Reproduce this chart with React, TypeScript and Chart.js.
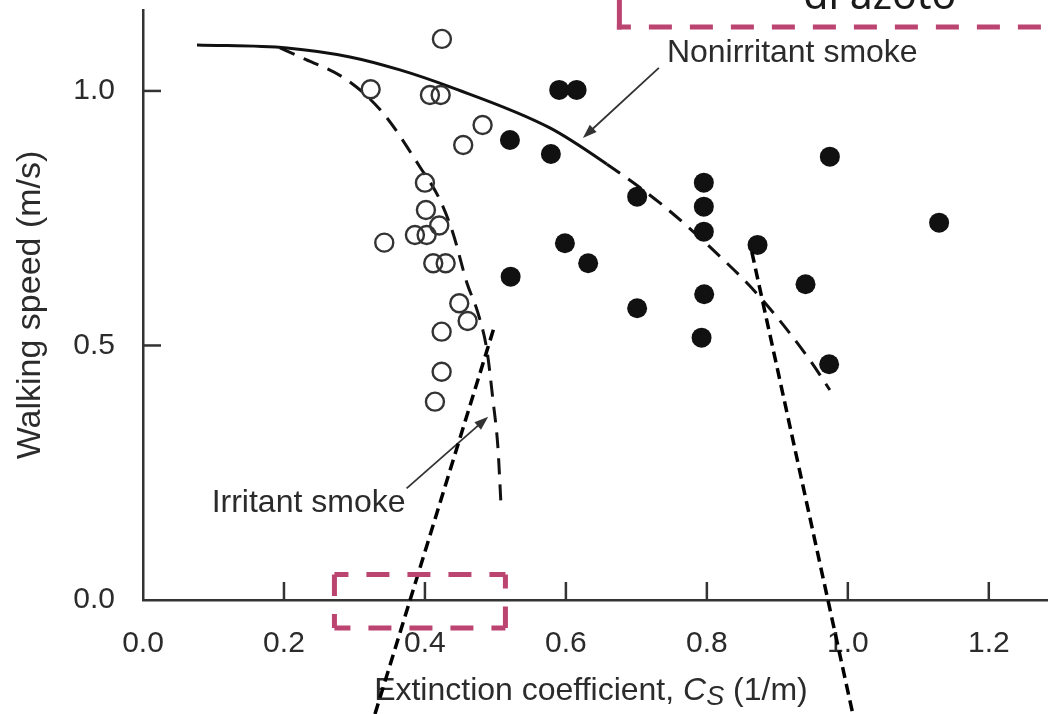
import React, { useEffect, useRef } from 'react';
import { Chart, registerables } from 'chart.js';

Chart.register(...registerables);

// ---- Data ----
const xTickValues = [0, 0.2, 0.4, 0.6, 0.8, 1.0, 1.2];
const yTickValues = [0, 0.5, 1.0];

// Irritant smoke (open circles)
const irritantX = [0.4241, 0.3230, 0.4071, 0.4223, 0.4818, 0.4543, 0.4000, 0.4014, 0.4203, 0.3858, 0.4024, 0.3423, 0.4118, 0.4294, 0.4487, 0.4606, 0.4237, 0.4237, 0.4142];
const irritantY = [1.1022, 1.0033, 0.9921, 0.9921, 0.9332, 0.8939, 0.8198, 0.7662, 0.7358, 0.7171, 0.7171, 0.7020, 0.6615, 0.6615, 0.5829, 0.5481, 0.5271, 0.4485, 0.3896];

// Nonirritant smoke (filled circles)
const nonIrritantX = [0.5905, 0.6152, 0.5206, 0.5787, 0.7011, 0.7957, 0.7957, 0.7957, 0.9745, 1.1295, 0.8719, 0.5986, 0.6316, 0.5216, 0.7011, 0.7962, 0.7925, 0.9400, 0.9735];
const nonIrritantY = [1.0020, 1.0020, 0.9037, 0.8762, 0.7923, 0.8198, 0.7727, 0.7236, 0.8709, 0.7413, 0.6975, 0.7008, 0.6615, 0.6352, 0.5731, 0.6006, 0.5153, 0.6202, 0.4631];

// Fitted curves
const nonCurveX = [0.0766, 0.2043, 0.2936, 0.3645, 0.4355, 0.5773, 0.6582, 0.7333, 0.8043, 0.8752, 0.9461, 0.9745];
const nonCurveY = [1.0904, 1.0845, 1.0668, 1.0413, 1.0079, 0.9273, 0.8560, 0.7800, 0.6935, 0.5953, 0.4715, 0.4126];
const nonCurveSolidUntil = 6; // segments after this index are dashed

const irrCurveX = [0.1943, 0.2227, 0.2894, 0.3404, 0.3929, 0.4213, 0.4397, 0.4596, 0.4752, 0.4879, 0.4965, 0.5035, 0.5078];
const irrCurveY = [1.0845, 1.0668, 1.0216, 0.9568, 0.8507, 0.7859, 0.7210, 0.6228, 0.5639, 0.4912, 0.3929, 0.3006, 0.1906];

// ---- Annotation anchors (data units) ----
const nonLabel = { text: 'Nonirritant smoke', x: 0.7433, y: 1.0570 };
const irrLabel = { text: 'Irritant smoke', x: 0.0974, y: 0.1735 };
const nonArrow = { x0: 0.7319, y0: 1.0452, x1: 0.6241, y1: 0.9077 };
const irrArrow = { x0: 0.3740, y0: 0.2194, x1: 0.4898, y1: 0.3601 };
const xTitle = { x: 0.6355, y: -0.1965 };

// Slide overlays (data units)
const redBox = { x0: 0.2716, x1: 0.5142, y0: 0.0501, y1: -0.0550 };
const redTop = { x: 0.6759, yTop: 1.1788, y: 1.1257, xEnd: 1.30 };
const overlayText = { text: 'di azoto', x: 1.0454, y: 1.1600 };
const blackLines = [
  { x0: 0.3291, y0: -0.2240, x1: 0.4979, y1: 0.5344 },
  { x0: 0.8638, y0: 0.6837, x1: 1.0071, y1: -0.2240 },
];

const FONT = '"Liberation Sans", Arial, Helvetica, sans-serif';
const TEXT = '#2b2b2b';
const AXIS = '#333333';
const RED = '#bb4470';

const zip = (xs: number[], ys: number[]) => xs.map((x, i) => ({ x, y: ys[i] }));

function arrow(ctx: CanvasRenderingContext2D, x0: number, y0: number, x1: number, y1: number) {
  const ang = Math.atan2(y1 - y0, x1 - x0);
  const L = 14, W = 5;
  ctx.beginPath();
  ctx.moveTo(x0, y0);
  ctx.lineTo(x1 - Math.cos(ang) * L * 0.7, y1 - Math.sin(ang) * L * 0.7);
  ctx.stroke();
  ctx.beginPath();
  ctx.moveTo(x1, y1);
  ctx.lineTo(x1 - Math.cos(ang) * L + Math.sin(ang) * W, y1 - Math.sin(ang) * L - Math.cos(ang) * W);
  ctx.lineTo(x1 - Math.cos(ang) * L - Math.sin(ang) * W, y1 - Math.sin(ang) * L + Math.cos(ang) * W);
  ctx.closePath();
  ctx.fill();
}

function dashedEdge(ctx: CanvasRenderingContext2D, ax: number, ay: number, bx: number, by: number) {
  ctx.save();
  ctx.setLineDash([23, 18]);
  ctx.lineDashOffset = 9;
  ctx.beginPath();
  ctx.moveTo(ax, ay);
  ctx.lineTo(bx, by);
  ctx.stroke();
  ctx.restore();
}

const overlayPlugin = {
  id: 'overlayPlugin',
  afterDraw(chart: any) {
    const ctx: CanvasRenderingContext2D = chart.ctx;
    const xs = chart.scales.x;
    const ys = chart.scales.y;
    const X = (v: number) => xs.getPixelForValue(v);
    const Y = (v: number) => ys.getPixelForValue(v);
    ctx.save();

    // inward tick marks
    ctx.strokeStyle = AXIS;
    ctx.lineWidth = 2.5;
    ctx.setLineDash([]);
    const TL = 18;
    xTickValues.forEach((v) => {
      if (v === 0) return;
      ctx.beginPath();
      ctx.moveTo(X(v), Y(0));
      ctx.lineTo(X(v), Y(0) - TL);
      ctx.stroke();
    });
    yTickValues.forEach((v) => {
      if (v === 0) return;
      ctx.beginPath();
      ctx.moveTo(X(0), Y(v));
      ctx.lineTo(X(0) + TL, Y(v));
      ctx.stroke();
    });

    // annotation labels
    ctx.fillStyle = TEXT;
    ctx.font = `32px ${FONT}`;
    ctx.textAlign = 'left';
    ctx.textBaseline = 'alphabetic';
    ctx.fillText(nonLabel.text, X(nonLabel.x), Y(nonLabel.y));
    ctx.fillText(irrLabel.text, X(irrLabel.x), Y(irrLabel.y));

    // arrows
    ctx.strokeStyle = '#333';
    ctx.fillStyle = '#333';
    ctx.lineWidth = 1.8;
    arrow(ctx, X(nonArrow.x0), Y(nonArrow.y0), X(nonArrow.x1), Y(nonArrow.y1));
    arrow(ctx, X(irrArrow.x0), Y(irrArrow.y0), X(irrArrow.x1), Y(irrArrow.y1));

    // x-axis title with italic C and subscript S
    const p1 = 'Extinction coefficient, ';
    const p2 = 'C';
    const p3 = 'S';
    const p4 = ' (1/m)';
    const fN = `32px ${FONT}`;
    const fI = `italic 32px ${FONT}`;
    const fS = `italic 27px ${FONT}`;
    ctx.font = fN; const w1 = ctx.measureText(p1).width; const w4 = ctx.measureText(p4).width;
    ctx.font = fI; const w2 = ctx.measureText(p2).width;
    ctx.font = fS; const w3 = ctx.measureText(p3).width;
    const total = w1 + w2 + w3 + w4;
    let cx = X(xTitle.x) - total / 2;
    const by = Y(xTitle.y);
    ctx.fillStyle = TEXT;
    ctx.textAlign = 'left';
    ctx.font = fN; ctx.fillText(p1, cx, by); cx += w1;
    ctx.font = fI; ctx.fillText(p2, cx, by); cx += w2;
    ctx.font = fS; ctx.fillText(p3, cx, by + 5); cx += w3;
    ctx.font = fN; ctx.fillText(p4, cx, by);

    // ---- slide overlays ----
    // black dashed guide lines
    ctx.strokeStyle = '#000';
    ctx.lineWidth = 3.5;
    ctx.setLineDash([11, 6]);
    blackLines.forEach((l) => {
      ctx.beginPath();
      ctx.moveTo(X(l.x0), Y(l.y0));
      ctx.lineTo(X(l.x1), Y(l.y1));
      ctx.stroke();
    });
    ctx.setLineDash([]);

    // red dashed boxes
    ctx.strokeStyle = RED;
    ctx.lineWidth = 5;
    ctx.lineCap = 'butt';
    const bx0 = X(redBox.x0), bx1 = X(redBox.x1), by0 = Y(redBox.y0), by1 = Y(redBox.y1);
    dashedEdge(ctx, bx0, by0, bx1, by0);
    dashedEdge(ctx, bx1, by0, bx1, by1);
    dashedEdge(ctx, bx1, by1, bx0, by1);
    dashedEdge(ctx, bx0, by1, bx0, by0);

    const tx = X(redTop.x), ty = Y(redTop.y);
    ctx.beginPath();
    ctx.moveTo(tx, Y(redTop.yTop));
    ctx.lineTo(tx, ty + 2.5);
    ctx.stroke();
    dashedEdge(ctx, tx - 2.5, ty, X(redTop.xEnd), ty);

    // overlay text
    ctx.fillStyle = '#1a1a1a';
    ctx.font = '41px "Noto Sans", "Open Sans", sans-serif';
    ctx.textAlign = 'center';
    ctx.textBaseline = 'alphabetic';
    ctx.fillText(overlayText.text, X(overlayText.x), Y(overlayText.y));

    ctx.restore();
  },
};

export default function App() {
  const ref = useRef<HTMLCanvasElement>(null);

  useEffect(() => {
    document.body.style.margin = '0';
    const canvas = ref.current;
    if (!canvas) return;
    const chart = new Chart(canvas, {
      type: 'scatter',
      data: {
        datasets: [
          {
            label: 'Nonirritant smoke',
            data: zip(nonIrritantX, nonIrritantY),
            pointRadius: 10,
            pointBackgroundColor: '#111111',
            pointBorderWidth: 0,
            pointBorderColor: '#111111',
          },
          {
            label: 'Irritant smoke',
            data: zip(irritantX, irritantY),
            pointRadius: 9,
            pointBackgroundColor: 'rgba(0,0,0,0)',
            pointBorderColor: '#333333',
            pointBorderWidth: 2.4,
          },
          {
            label: 'Nonirritant fit',
            data: zip(nonCurveX, nonCurveY),
            showLine: true,
            pointRadius: 0,
            borderColor: '#111111',
            borderWidth: 3,
            cubicInterpolationMode: 'monotone',
            segment: {
              borderDash: (c: any) => (c.p0DataIndex >= nonCurveSolidUntil ? [16, 10] : undefined),
            },
          } as any,
          {
            label: 'Irritant fit',
            data: zip(irrCurveX, irrCurveY),
            showLine: true,
            pointRadius: 0,
            borderColor: '#111111',
            borderWidth: 3,
            borderDash: [16, 10],
            cubicInterpolationMode: 'monotone',
          } as any,
        ],
      },
      options: {
        responsive: false,
        animation: false,
        layout: { autoPadding: false, padding: { top: 10, right: 0, left: 0, bottom: 0 } },
        plugins: {
          legend: { display: false },
          tooltip: { enabled: false },
        },
        scales: {
          x: {
            type: 'linear',
            min: 0,
            max: 1.284,
            afterBuildTicks: (s: any) => {
              s.ticks = xTickValues.map((v) => ({ value: v }));
            },
            afterFit: (s: any) => {
              s.height = 114;
              s.paddingLeft = 0;
              s.paddingRight = 0;
            },
            grid: { display: false, drawTicks: false },
            border: { display: true, color: AXIS, width: 2.5 },
            ticks: {
              padding: 26,
              color: TEXT,
              font: { family: FONT, size: 30 },
              maxRotation: 0,
              autoSkip: false,
              callback: (v: any) => Number(v).toFixed(1),
            },
          },
          y: {
            type: 'linear',
            min: 0,
            max: 1.159,
            afterBuildTicks: (s: any) => {
              s.ticks = yTickValues.map((v) => ({ value: v }));
            },
            afterFit: (s: any) => {
              s.width = 143;
              s.paddingTop = 0;
              s.paddingBottom = 0;
            },
            grid: { display: false, drawTicks: false },
            border: { display: true, color: AXIS, width: 2.5 },
            ticks: {
              padding: 28,
              color: TEXT,
              font: { family: FONT, size: 30 },
              callback: (v: any) => Number(v).toFixed(1),
            },
            title: {
              display: true,
              text: 'Walking speed (m/s)',
              color: TEXT,
              font: { family: FONT, size: 34, lineHeight: 1 },
              padding: { top: 14, bottom: 0 },
            },
          },
        },
      },
      plugins: [overlayPlugin],
    } as any);
    return () => chart.destroy();
  }, []);

  return (
    <div style={{ width: 1048, height: 714, background: '#ffffff' }}>
      <canvas ref={ref} width={1048} height={714} style={{ display: 'block' }} />
    </div>
  );
}
